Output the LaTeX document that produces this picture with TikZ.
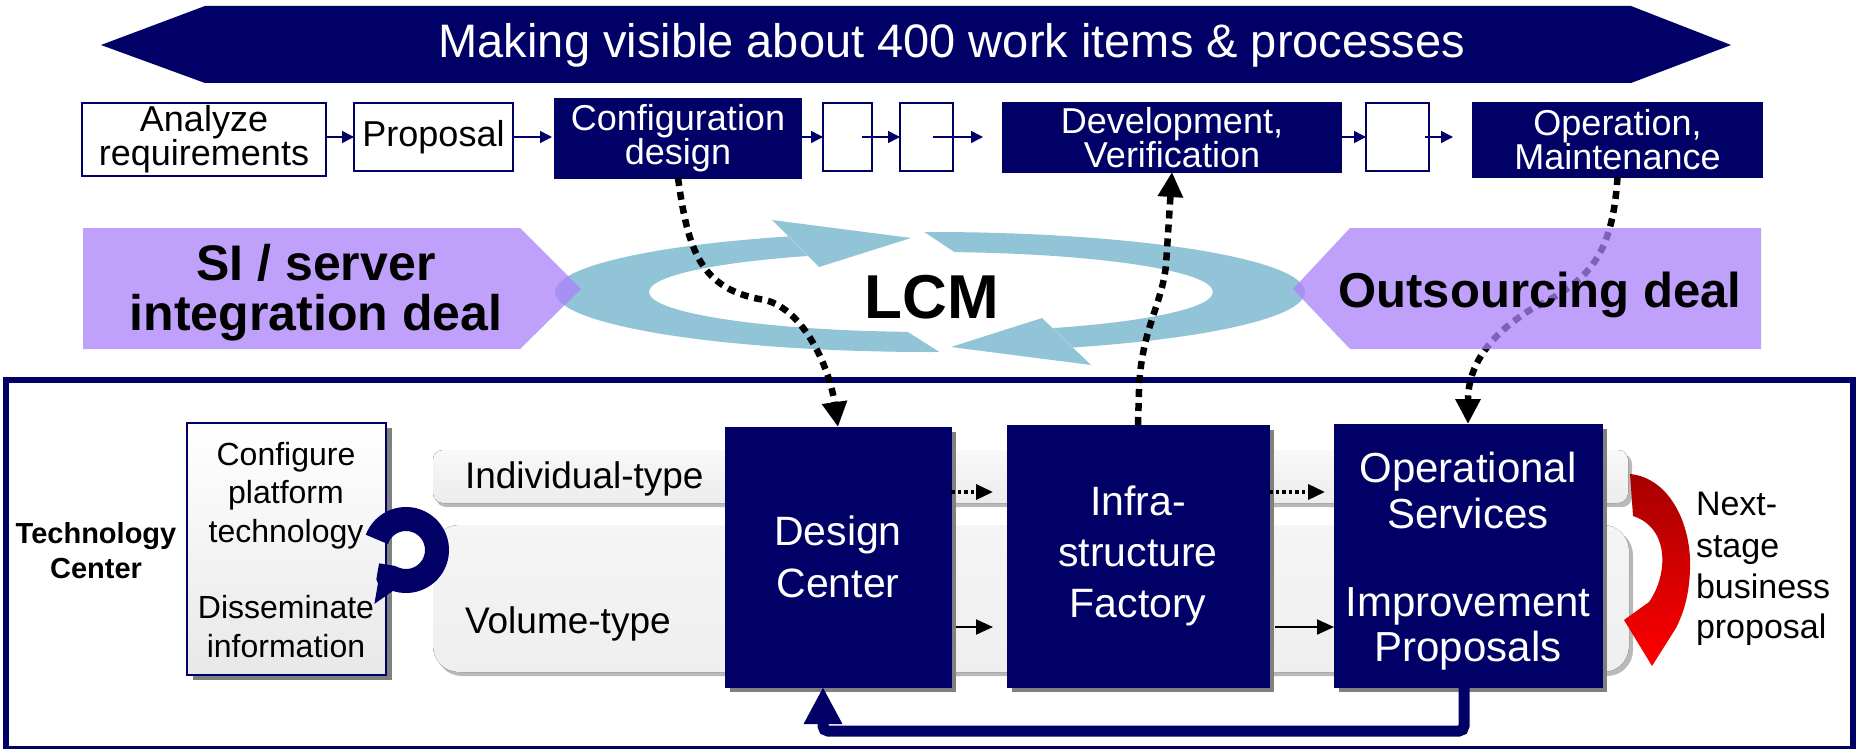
\documentclass[tikz,border=0pt]{standalone}
\usepackage{fontspec}
\setmainfont{Liberation Sans}
\usetikzlibrary{arrows.meta,calc}
\definecolor{navy}{RGB}{0,0,102}
\definecolor{ringblue}{RGB}{146,196,216}
\definecolor{lav}{RGB}{170,130,250}
\definecolor{shadowgray}{RGB}{128,128,128}
\newcommand{\fsz}[2]{\fontsize{#1}{#2}\selectfont}
\tikzset{
  topbox/.style={draw=navy, line width=1.5pt, fill=white, text=black, align=center, font=\fsz{36}{34}},
  topnavy/.style={topbox, fill=navy, text=white},
  toparrow/.style={navy, line width=1.5pt, -{Triangle[length=12pt,width=12pt]}},
  bigbox/.style={fill=navy, draw=navy},
  bigtext/.style={text=white, align=center},
  boxshadow/.style={fill=shadowgray},
  dotconn/.style={black, line width=6.5pt, dash pattern=on 8pt off 6pt, -{Triangle[length=25pt,width=24pt]}},
  dotarrow/.style={black, line width=3.5pt, dash pattern=on 3.5pt off 3pt, -{Triangle[length=17pt,width=15pt]}},
  solarrow/.style={black, line width=2pt, -{Triangle[length=17pt,width=15pt]}},
  deal/.style={lav, opacity=0.75},
}
\begin{document}
\begin{tikzpicture}[x=1pt,y=-1pt, every node/.style={inner sep=0pt, outer sep=0pt}]
\useasboundingbox (0,0) rectangle (1858,749);
\fill[white] (0,0) rectangle (1858,749);

% ---------- banner ----------
\fill[navy] (101,45) -- (205,6) -- (1631,6) -- (1731,45) -- (1631,83) -- (205,83) -- cycle;
\node[anchor=base, text=white, font=\fsz{47}{50}] (bantext) at (952,58) {Making visible about 400 work items \& processes};

% ---------- top row ----------
\coordinate (rowy) at (0,137);
\node[topbox, minimum width=244, minimum height=73] (ana) at (204,139.5) {Analyze\\requirements};
\node[topbox, minimum width=159, minimum height=68] (prop) at (433.5,137) {Proposal};
\node[topnavy, minimum width=246, minimum height=79] (cfg) at (678,138.5) {Configuration\\design};
\node[topbox, minimum width=49, minimum height=68] (b1) at (847.5,137) {};
\node[topbox, minimum width=53, minimum height=68] (b2) at (926.5,137) {};
\node[topnavy, minimum width=338, minimum height=69] (dev) at (1172,137.5) {Development,\\Verification};
\node[topbox, minimum width=63, minimum height=68] (b3) at (1397.5,137) {};
\node[topnavy, minimum width=289, minimum height=74] (ope) at (1617.5,140) {Operation,\\Maintenance};

\draw[toparrow] (ana.east |- rowy) -- (prop.west |- rowy);
\draw[toparrow] (prop.east |- rowy) -- ($(cfg.west |- rowy)+(-3,0)$);
\draw[toparrow] (cfg.east |- rowy) -- (b1.west |- rowy);
\draw[toparrow] ($(b1.east |- rowy)+(-10,0)$) -- (b2.west |- rowy);
\draw[toparrow] ($(b2.east |- rowy)+(-20,0)$) -- ($(dev.west |- rowy)+(-20,0)$);
\draw[toparrow] (dev.east |- rowy) -- (b3.west |- rowy);
\draw[toparrow] ($(b3.east |- rowy)+(-4,0)$) -- ($(ope.west |- rowy)+(-20,0)$);

% ---------- LCM ring ----------
\fill[ringblue, even odd rule] (930,292) ellipse[x radius=375pt, y radius=60pt] (931,292) ellipse[x radius=282pt, y radius=40pt];
\fill[white] (765,213) -- (921,222) -- (921,230) -- (963,258) -- (963,266) -- (826,274) -- cycle;
\fill[white] (1035,311) -- (1096,370) -- (943,362) -- (943,354) -- (900,327) -- (900,318) -- cycle;
\fill[ringblue] (772,220) -- (911,238) -- (819,267) -- cycle;
\fill[ringblue] (1042,318) -- (951,347) -- (1091,365) -- cycle;
\node[anchor=base, font=\bfseries\fsz{62}{62}] (lcm) at (932,318) {LCM};

% ---------- frame ----------
\draw[navy, line width=6pt] (6,380) rectangle (1853,749);

% ---------- bands ----------
\fill[gray!55, rounded corners=10pt] (436,454) rectangle (1632,507);
\fill[rounded corners=10pt, top color=gray!5, bottom color=gray!15] (433,450) rectangle (1628,503);
\fill[gray!55, rounded corners=26pt] (436,529) rectangle (1633,676);
\fill[rounded corners=26pt, top color=gray!8, middle color=white, bottom color=gray!13] (433,525) rectangle (1629,672);
\node[anchor=base west, font=\fsz{37}{37}] (indt) at (465,488) {Individual-type};
\node[anchor=base west, font=\fsz{37}{37}] (volt) at (465,633) {Volume-type};

% ---------- technology center ----------
\node[anchor=base, font=\bfseries\fsz{29}{35}] (tc1) at (96,543) {Technology};
\node[anchor=base, font=\bfseries\fsz{29}{35}] (tc2) at (96,578) {Center};
\fill[boxshadow] (193,428) rectangle (392,680);
\node[draw=navy, line width=2pt, top color=white, bottom color=gray!18, minimum width=199, minimum height=252] (tb) at (286.5,549) {};
\node[anchor=base, font=\fsz{32}{38}] (tb1) at (286,465) {Configure};
\node[anchor=base, font=\fsz{32}{38}] (tb2) at (286,503) {platform};
\node[anchor=base, font=\fsz{32}{38}] (tb3) at (286,542) {technology};
\node[anchor=base, font=\fsz{32}{38}] (tb4) at (286,618) {Disseminate};
\node[anchor=base, font=\fsz{32}{38}] (tb5) at (286,657) {information};
\draw[navy, line width=24pt, -{Triangle[length=26pt,width=50pt]}] (406,550) ++(160:31pt) arc[start angle=160, end angle=-145, radius=31pt];

% ---------- big boxes ----------
\fill[boxshadow] (730,432) rectangle (956,692);
\fill[boxshadow] (1012,430) rectangle (1274,692);
\fill[boxshadow] (1339,429) rectangle (1607,692);
\node[bigbox, minimum width=226, minimum height=260] (dc) at (838,557) {};
\node[bigbox, minimum width=262, minimum height=262] (inf) at (1138,556) {};
\node[bigbox, minimum width=268, minimum height=263] (ops) at (1468,555.5) {};
\node[bigtext, font=\fsz{41}{52}] (dct) at (dc.center) {Design\\Center};
\node[bigtext, font=\fsz{41}{51}] (inft) at (inf.center) {Infra-\\structure\\Factory};
\node[bigtext, font=\fsz{42}{46}] (opst1) at (1468,490) {Operational\\Services};
\node[bigtext, font=\fsz{42}{45}] (opst2) at (1468,629) {Improvement\\Proposals};

\coordinate (indy) at (0,492);
\coordinate (voly) at (0,627);
\draw[dotarrow] (dc.east |- indy) -- ($(inf.west |- indy)+(-14,0)$);
\draw[dotarrow] (inf.east |- indy) -- ($(ops.west |- indy)+(-9,0)$);
\draw[solarrow] ($(dc.east |- voly)+(5,0)$) -- ($(inf.west |- voly)+(-14,0)$);
\draw[solarrow] ($(inf.east |- voly)+(6,0)$) -- (ops.west |- voly);

% feedback
\coordinate (fb1) at (1464,731);
\coordinate (fb2) at (823,731);
\draw[navy, line width=11pt, rounded corners=5pt, -{Triangle[length=37pt,width=36pt]}] ($(ops.south)+(-4,0)$) -- (fb1) -- (fb2) -- ($(dc.south)+(-15,0)$);

% ---------- dotted connectors ----------
\draw[dotconn] (cfg.south) .. controls (688,250) and (700,290) .. (765,300) .. controls (805,310) and (830,370) .. (dc.north);
\draw[dotconn] (inf.north) -- (1139,390) .. controls (1141,330) and (1162,305) .. (1166,265) -- (dev.south);
\draw[dotconn] (ope.south) .. controls (1612,262) and (1585,282) .. (1530,310) .. controls (1490,335) and (1468,365) .. (ops.north);

% ---------- deals ----------
\fill[deal] (83,228) -- (520,228) -- (581,289) -- (520,349) -- (83,349) -- cycle;
\fill[deal] (1761,228) -- (1350,228) -- (1293,289) -- (1350,349) -- (1761,349) -- cycle;
\node[anchor=base, font=\bfseries\fsz{50}{50}] (si1) at (316,280) {SI / server};
\node[anchor=base, font=\bfseries\fsz{50}{50}] (si2) at (316,330) {integration deal};
\node[anchor=base, font=\bfseries\fsz{49}{49}] (outs) at (1540,307) {Outsourcing deal};

% ---------- next stage ----------
\shade[top color=red!65!black, bottom color=red] (1630,474) .. controls (1670,478) and (1692,525) .. (1690,570) .. controls (1689,595) and (1684,612) .. (1676,628) -- (1652,666) -- (1624,620) -- (1649,602) .. controls (1668,575) and (1670,528) .. (1633,516) -- cycle;
\node[anchor=base west, font=\fsz{34}{41}] (ns1) at (1696,515) {Next-};
\node[anchor=base west, font=\fsz{34}{41}] (ns2) at (1696,557) {stage};
\node[anchor=base west, font=\fsz{34}{41}] (ns3) at (1696,598) {business};
\node[anchor=base west, font=\fsz{34}{41}] (ns4) at (1696,638) {proposal};
\end{tikzpicture}
\end{document}
